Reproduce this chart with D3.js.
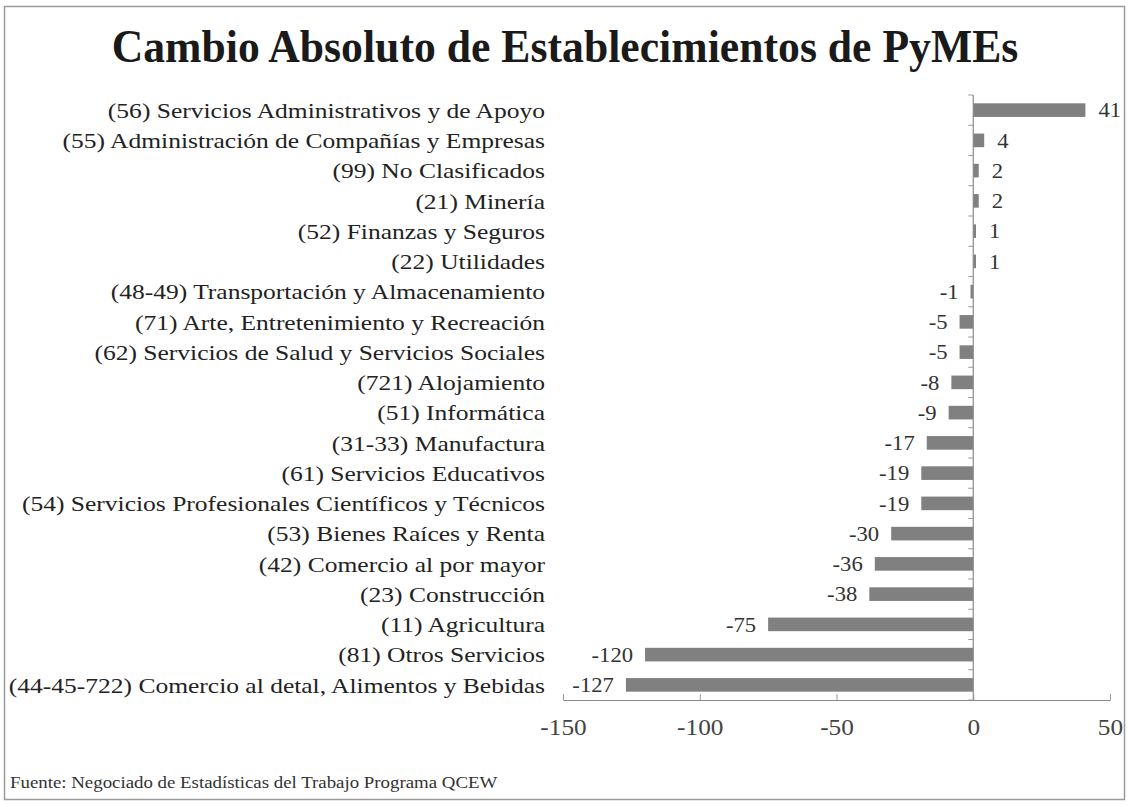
<!DOCTYPE html>
<html>
<head>
<meta charset="utf-8">
<script src="https://cdn.jsdelivr.net/npm/d3@7"></script>
<style>
  body { margin: 0; background: #fff; }
  text { font-family: "Liberation Serif", "Times New Roman", serif; }
</style>
</head>
<body>
<div class="plot1"></div>
<script>
// categorias y valores (de arriba hacia abajo)
var categories = [
  "(56) Servicios Administrativos y de Apoyo",
  "(55) Administración de Compañías y Empresas",
  "(99) No Clasificados",
  "(21) Minería",
  "(52) Finanzas y Seguros",
  "(22) Utilidades",
  "(48-49) Transportación y Almacenamiento",
  "(71) Arte, Entretenimiento y Recreación",
  "(62) Servicios de Salud y Servicios Sociales",
  "(721) Alojamiento",
  "(51) Informática",
  "(31-33) Manufactura",
  "(61) Servicios Educativos",
  "(54) Servicios Profesionales Científicos y Técnicos",
  "(53) Bienes Raíces y Renta",
  "(42) Comercio al por mayor",
  "(23) Construcción",
  "(11) Agricultura",
  "(81) Otros Servicios",
  "(44-45-722) Comercio al detal, Alimentos y Bebidas"
];
var values = [41, 4, 2, 2, 1, 1, -1, -5, -5, -8, -9, -17, -19, -19, -30, -36, -38, -75, -120, -127];
var xTicks = [-150, -100, -50, 0, 50];

var title = "Cambio Absoluto de Establecimientos de PyMEs";
var source = "Fuente: Negociado de Estadísticas del Trabajo Programa QCEW";

var width = 1128, height = 807;
var stretch = 1.16; // el escaneo original esta ensanchado

var svg = d3.select(".plot1").append("svg")
  .attr("width", width)
  .attr("height", height);

// marco
svg.append("rect")
  .attr("x", 4.5)
  .attr("y", 6.5)
  .attr("width", 1120)
  .attr("height", 793)
  .style("fill", "none")
  .style("stroke", "#9a9a9a")
  .style("stroke-width", 1.5);

svg.append("text")
  .attr("transform", "translate(565,62) scale(0.95,1)")
  .style("text-anchor", "middle")
  .style("font-size", "46px")
  .style("font-weight", "bold")
  .style("fill", "#1a1a1a")
  .text(title);

var x = d3.scaleLinear()
  .domain([-150, 50])
  .range([563, 1110]);

var y = d3.scaleBand()
  .domain(categories)
  .range([95, 700])
  .paddingInner(0.55)
  .paddingOuter(0.275);

var data = categories.map(function(c, i) {
  return { text: c, value: values[i] };
});

// barras
svg.selectAll("rect.bar")
  .data(data)
  .enter()
  .append("rect")
  .attr("class", "bar")
  .attr("x", function(d) { return x(Math.min(0, d.value)); })
  .attr("y", function(d) { return y(d.text); })
  .attr("width", function(d) { return Math.abs(x(d.value) - x(0)); })
  .attr("height", y.bandwidth())
  .style("fill", "#808080");

// etiquetas de valores
svg.selectAll("text.val")
  .data(data)
  .enter()
  .append("text")
  .attr("class", "val")
  .attr("transform", function(d) {
    var px = d.value >= 0 ? x(d.value) + 13 : x(d.value) - 12;
    return "translate(" + px + "," + (y(d.text) + y.bandwidth() / 2) + ") scale(1.08,1)";
  })
  .attr("dy", "0.35em")
  .style("text-anchor", function(d) { return d.value >= 0 ? "start" : "end"; })
  .style("font-size", "21px")
  .style("fill", "#333")
  .text(function(d) { return d.value; });

// etiquetas de categorias
svg.selectAll("text.cat")
  .data(data)
  .enter()
  .append("text")
  .attr("class", "cat")
  .attr("transform", function(d) {
    return "translate(545," + (y(d.text) + y.bandwidth() / 2) + ") scale(" + stretch + ",1)";
  })
  .attr("dy", "0.35em")
  .style("text-anchor", "end")
  .style("font-size", "22px")
  .style("fill", "#222")
  .text(function(d) { return d.text; });

// eje vertical en cero
var yTop = y.range()[0], yBot = y.range()[1];
svg.append("line")
  .attr("x1", x(0)).attr("x2", x(0))
  .attr("y1", yTop).attr("y2", yBot)
  .style("stroke", "#8a8a8a")
  .style("stroke-width", 1.2);

svg.selectAll("line.ytick")
  .data(d3.range(categories.length + 1))
  .enter()
  .append("line")
  .attr("class", "ytick")
  .attr("x1", x(0) - 5).attr("x2", x(0))
  .attr("y1", function(i) { return yTop + i * y.step(); })
  .attr("y2", function(i) { return yTop + i * y.step(); })
  .style("stroke", "#999");

// eje x
var xAxis = d3.axisBottom(x)
  .tickValues(xTicks)
  .tickSizeInner(-6)
  .tickSizeOuter(0)
  .tickPadding(0)
  .tickFormat(d3.format("d"));

var gx = svg.append("g")
  .attr("transform", "translate(0," + yBot + ")")
  .call(xAxis);

gx.select(".domain").style("stroke", "#8a8a8a").style("stroke-width", 1.2);
gx.selectAll(".tick line").style("stroke", "#999");
gx.selectAll(".tick text")
  .attr("y", 0)
  .attr("dy", 0)
  .attr("transform", "translate(0,35) scale(1.1,1)")
  .style("font-family", "Liberation Serif, serif")
  .style("font-size", "23px")
  .style("fill", "#444")
  .text(function(d) { return d < 0 ? "-" + Math.abs(d) : d; });

svg.append("text")
  .attr("transform", "translate(10,788) scale(1.11,1)")
  .style("font-size", "17px")
  .style("fill", "#333")
  .text(source);
</script>
</body>
</html>
